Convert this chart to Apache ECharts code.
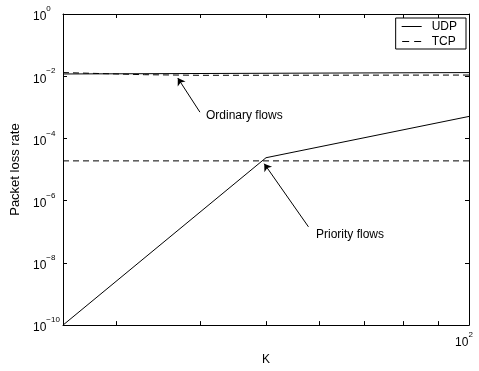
<!DOCTYPE html>
<html>
<head>
<meta charset="utf-8">
<script src="https://cdn.jsdelivr.net/npm/echarts@6/dist/echarts.min.js"></script>
<style>
  html, body { margin: 0; padding: 0; background: #fff; }
  #main { width: 479px; height: 371px; }
</style>
</head>
<body>
<div id="main"></div>
<script>
// values (K on a log axis, loss rate on a log axis)
var udpOrdinary = [[25, 1.18e-2], [100, 1.31e-2]];
var tcpOrdinary = [[25, 1.31e-2], [33, 1.12e-2], [40, 1.07e-2], [100, 1.09e-2]];
var udpPriority = [[25, 1e-10], [50, 2.4e-5], [100, 5.1e-4]];
var tcpPriority = [[25, 1.9e-5], [100, 1.9e-5]];

var xTicks = [30, 40, 50, 60, 70, 80, 90, 100];
var xLabels = [100];

// arrows: [tail, tip]
var ordinaryArrow = [[39.9, 7.0e-4], [37.0, 8.7e-3]];
var priorityArrow = [[57.8, 1.44e-7], [49.7, 1.54e-5]];

var font = 'Liberation Sans, Arial, Helvetica, sans-serif';

function powLabel(v) {
  var e = Math.round(Math.log10(v));
  return '{b|10}{s|' + String(e).replace('-', '\u2212') + '}';
}
var richSup = {
  b: { fontSize: 12, fontFamily: font, color: '#000', lineHeight: 18, verticalAlign: 'bottom' },
  s: { fontSize: 8, fontFamily: font, color: '#000', lineHeight: 18, verticalAlign: 'top' }
};

var chart = echarts.init(document.getElementById('main'));

var lineBase = { type: 'line', showSymbol: false, symbol: 'none', silent: true, animation: false };
function solid(d) { return Object.assign({}, lineBase, { name: 'UDP', data: d, lineStyle: { color: '#000', width: 1, type: 'solid' }, itemStyle: { color: '#000' } }); }
function dashed(d) { return Object.assign({}, lineBase, { name: 'TCP', data: d, lineStyle: { color: '#000', width: 1, type: [6, 4] }, itemStyle: { color: '#000' } }); }

function arrowLine(seg) {
  return {
    silent: true,
    symbol: ['none', 'arrow'],
    symbolSize: 7,
    label: { show: false },
    lineStyle: { color: '#000', width: 1, type: 'solid' },
    data: [[{ coord: seg[0] }, { coord: seg[1] }]]
  };
}

var s1 = solid(udpOrdinary);
var s3 = solid(udpPriority);
s3.markLine = arrowLine(priorityArrow);
var s2 = dashed(tcpOrdinary);
s2.markLine = arrowLine(ordinaryArrow);
var s4 = dashed(tcpPriority);

var xCommon = {
  type: 'log', min: 25, max: 100,
  axisLine: { show: true, onZero: false, lineStyle: { color: '#000', width: 1 } },
  axisTick: { show: true, inside: true, length: 4, customValues: xTicks, lineStyle: { color: '#000' } },
  splitLine: { show: false },
  minorTick: { show: false }
};
var yCommon = {
  type: 'log', logBase: 100, min: 1e-10, max: 1,
  axisLine: { show: true, onZero: false, lineStyle: { color: '#000', width: 1 } },
  axisTick: { show: true, inside: true, length: 4, lineStyle: { color: '#000' } },
  splitLine: { show: false }
};

chart.setOption({
  animation: false,
  backgroundColor: '#fff',
  textStyle: { fontFamily: font },
  grid: { left: 63, right: 10, top: 14, bottom: 37 },
  legend: {
    orient: 'vertical', right: 13, top: 18,
    data: [
      { name: 'UDP', icon: 'path://M0,0H20V1H0Z' },
      { name: 'TCP', icon: 'path://M0,0H7V1H0ZM12,0H19V1H12Z' }
    ],
    borderColor: '#000', borderWidth: 1, padding: [1.5, 9, 0.5, 6],
    itemWidth: 20, itemHeight: 1, itemGap: 1,
    itemStyle: { color: '#000', borderWidth: 0 },
    textStyle: { fontSize: 12, color: '#000', fontFamily: font, padding: [0, 0, 0, 5], lineHeight: 14 },
    selectedMode: false
  },
  xAxis: [
    Object.assign({}, xCommon, {
      position: 'bottom',
      name: 'K', nameLocation: 'middle', nameGap: 24,
      nameTextStyle: { fontSize: 12, color: '#000', fontFamily: font },
      axisLabel: { show: true, customValues: xLabels, margin: 6, padding: [0, 10, 0, 0], formatter: powLabel, rich: richSup }
    }),
    Object.assign({}, xCommon, { position: 'top', axisLabel: { show: false } })
  ],
  yAxis: [
    Object.assign({}, yCommon, {
      position: 'left',
      name: 'Packet loss rate', nameLocation: 'middle', nameGap: 35, nameRotate: 90,
      nameTextStyle: { fontSize: 13, color: '#000', fontFamily: font },
      axisLabel: { show: true, align: 'left', margin: 30, formatter: powLabel, rich: richSup }
    }),
    Object.assign({}, yCommon, { position: 'right', axisLabel: { show: false } })
  ],
  graphic: [
    { type: 'text', left: 206, top: 110, style: { text: 'Ordinary flows', fontSize: 12, fontFamily: font, fill: '#000' } },
    { type: 'text', left: 316, top: 229, style: { text: 'Priority flows', fontSize: 12, fontFamily: font, fill: '#000' } }
  ],
  series: [s1, s3, s2, s4]
});
</script>
</body>
</html>
